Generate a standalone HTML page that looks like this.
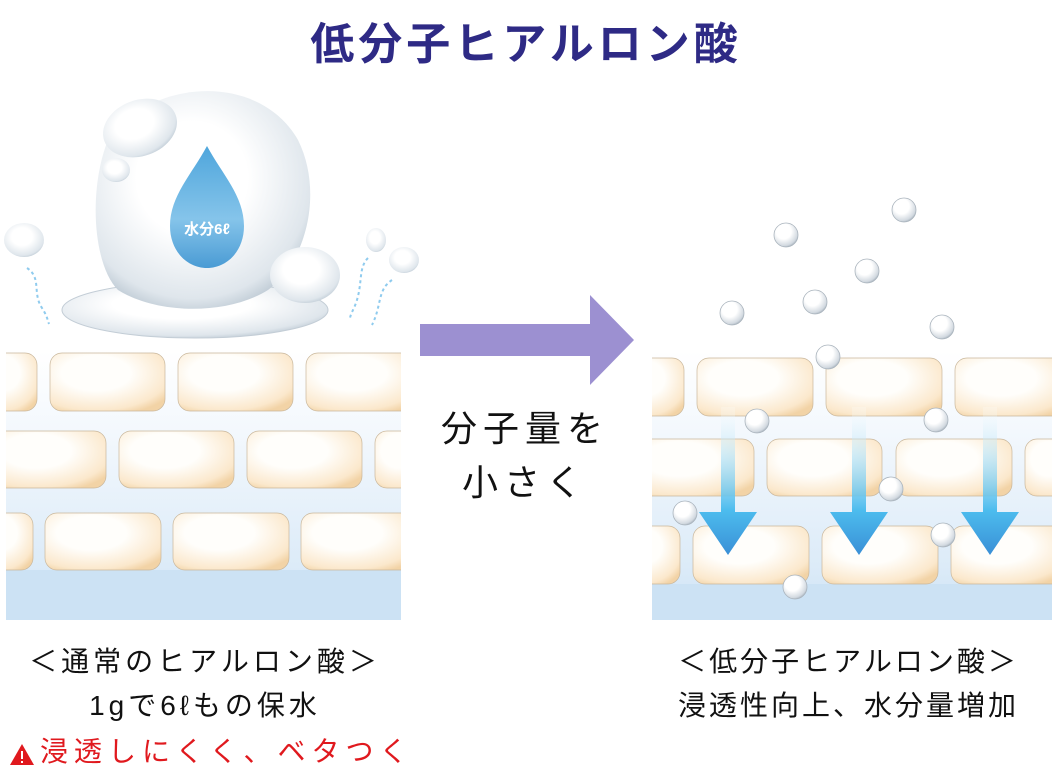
<!DOCTYPE html>
<html><head><meta charset="utf-8"><style>
html,body{margin:0;padding:0;background:#fff;}
body{width:1052px;height:774px;overflow:hidden;position:relative;font-family:"Liberation Sans","Noto Sans CJK JP",sans-serif;}
.t{position:absolute;white-space:nowrap;text-align:center;}
</style></head><body>
<svg width="1052" height="774" style="position:absolute;left:0;top:0">
<defs>
<clipPath id="cl"><rect x="6" y="340" width="395" height="280"/></clipPath>
<clipPath id="cr"><rect x="652" y="340" width="400" height="280"/></clipPath>
<linearGradient id="bg" x1="0" y1="0" x2="0" y2="1">
<stop offset="0" stop-color="#ffffff"/><stop offset="0.3" stop-color="#f3f8fd"/><stop offset="0.8" stop-color="#dcebf8"/><stop offset="1" stop-color="#cce2f4"/></linearGradient>
<radialGradient id="cell" cx="0.4" cy="0.35" r="0.75"><stop offset="0.4" stop-color="#fffefb"/><stop offset="0.85" stop-color="#fbe8cc"/><stop offset="1" stop-color="#f2d3a6"/></radialGradient>
<linearGradient id="arr" x1="0" y1="0" x2="0" y2="1"><stop offset="0" stop-color="#ffffff" stop-opacity="0.2"/><stop offset="0.7" stop-color="#4cbcee"/><stop offset="1" stop-color="#3a8fd6"/></linearGradient>
<radialGradient id="bub" cx="0.4" cy="0.35" r="0.7"><stop offset="0.45" stop-color="#ffffff"/><stop offset="0.85" stop-color="#d2d9e0"/><stop offset="1" stop-color="#9eaab5"/></radialGradient>
<radialGradient id="big" cx="0.45" cy="0.4" r="0.65"><stop offset="0.4" stop-color="#ffffff"/><stop offset="0.85" stop-color="#dfe6ec"/><stop offset="1" stop-color="#b8c5d0"/></radialGradient>
<linearGradient id="drop" x1="0" y1="0" x2="0" y2="1"><stop offset="0" stop-color="#4fa6dc"/><stop offset="0.6" stop-color="#85c4ea"/><stop offset="1" stop-color="#4a9bd4"/></linearGradient>
</defs>
<g clip-path="url(#cl)">
<rect x="6" y="351" width="395" height="269" fill="url(#bg)"/>
<rect x="6" y="570" width="395" height="50" fill="#cce2f4"/>
<g fill="url(#cell)" stroke="#c9b79c" stroke-width="0.7">
<rect x="-20" y="353" width="57" height="58" rx="12"/>
<rect x="50" y="353" width="115" height="58" rx="12"/>
<rect x="178" y="353" width="115" height="58" rx="12"/>
<rect x="306" y="353" width="115" height="58" rx="12"/>
<rect x="-10" y="431" width="116" height="57" rx="12"/>
<rect x="119" y="431" width="115" height="57" rx="12"/>
<rect x="247" y="431" width="115" height="57" rx="12"/>
<rect x="375" y="431" width="60" height="57" rx="12"/>
<rect x="-20" y="513" width="53" height="57" rx="12"/>
<rect x="45" y="513" width="116" height="57" rx="12"/>
<rect x="173" y="513" width="116" height="57" rx="12"/>
<rect x="301" y="513" width="116" height="57" rx="12"/>
</g>
</g>
<g clip-path="url(#cr)">
<rect x="652" y="351" width="400" height="269" fill="url(#bg)"/>
<rect x="652" y="584" width="400" height="36" fill="#cce2f4"/>
<g fill="url(#cell)" stroke="#c9b79c" stroke-width="0.7">
<rect x="620" y="358" width="64" height="58" rx="12"/>
<rect x="697" y="358" width="116" height="58" rx="12"/>
<rect x="826" y="358" width="116" height="58" rx="12"/>
<rect x="955" y="358" width="116" height="58" rx="12"/>
<rect x="630" y="439" width="124" height="57" rx="12"/>
<rect x="767" y="439" width="115" height="57" rx="12"/>
<rect x="896" y="439" width="116" height="57" rx="12"/>
<rect x="1025" y="439" width="60" height="57" rx="12"/>
<rect x="620" y="526" width="60" height="58" rx="12"/>
<rect x="693" y="526" width="116" height="58" rx="12"/>
<rect x="822" y="526" width="116" height="58" rx="12"/>
<rect x="951" y="526" width="116" height="58" rx="12"/>
</g>
</g>
<g fill="url(#arr)">
<path d="M721 407h14v105h22l-29 43l-29-43h22z"/>
<path d="M852 407h14v105h22l-29 43l-29-43h22z"/>
<path d="M983 407h14v105h22l-29 43l-29-43h22z"/>
</g>
<g fill="url(#bub)" stroke="#aab4bd" stroke-width="0.8">
<circle cx="904" cy="210" r="12"/><circle cx="786" cy="235" r="12"/><circle cx="867" cy="271" r="12"/>
<circle cx="732" cy="313" r="12"/><circle cx="815" cy="302" r="12"/><circle cx="942" cy="327" r="12"/>
<circle cx="828" cy="357" r="12"/><circle cx="757" cy="421" r="12"/><circle cx="936" cy="420" r="12"/>
<circle cx="891" cy="489" r="12"/><circle cx="685" cy="513" r="12"/><circle cx="943" cy="535" r="12"/>
<circle cx="795" cy="587" r="12"/>
</g>
<path d="M420 324h170v-29l44 45l-44 45v-29h-170z" fill="#9c90d1"/>
<ellipse cx="195" cy="310" rx="133" ry="28" fill="url(#big)" stroke="#c3cdd6"/>
<path d="M108 140c40-60 150-70 190 0c25 50 10 120-30 150c-40 25-110 25-150 0c-25-25-30-100-10-150z" fill="url(#big)"/>
<ellipse cx="140" cy="128" rx="38" ry="28" fill="url(#big)" transform="rotate(-20 140 128)"/>
<ellipse cx="116" cy="170" rx="14" ry="12" fill="url(#big)"/>
<ellipse cx="305" cy="275" rx="35" ry="28" fill="url(#big)"/>
<ellipse cx="24" cy="240" rx="20" ry="17" fill="url(#big)"/>
<ellipse cx="376" cy="240" rx="10" ry="12" fill="url(#big)"/>
<ellipse cx="404" cy="260" rx="15" ry="13" fill="url(#big)"/>
<path d="M207 146c-15 28-37 50-37 80c0 25 17 42 37 42s37-17 37-42c0-30-22-52-37-80z" fill="url(#drop)"/>
<text x="207" y="234" font-size="15" fill="#fff" text-anchor="middle" font-weight="bold" direction="ltr" unicode-bidi="embed" font-family="Liberation Sans,Noto Sans CJK JP,sans-serif">水分6ℓ</text>
<g fill="none" stroke="#8fcbee" stroke-width="2" stroke-dasharray="3 3">
<path d="M27 268c15 10 5 25 15 40c5 8 5 10 7 16"/>
<path d="M368 258c-10 10-5 25-12 45c-3 8-5 10-6 15"/>
<path d="M392 280c-15 10-10 25-20 45"/>
</g>
<path d="M10 765l12-21l12 21z" fill="#e0191e"/>
<rect x="21" y="751" width="2" height="8" fill="#fff"/><rect x="21" y="761" width="2" height="2" fill="#fff"/>
</svg>
<div class="t" style="left:0;width:1052px;top:8px;font-size:44px;font-weight:bold;color:#2e2a85;letter-spacing:4px">低分子ヒアルロン酸</div>
<div class="t" style="left:410px;width:230px;top:402px;font-size:36px;line-height:54px;color:#111;letter-spacing:6px">分子量を<br>小さく</div>
<div class="t" style="left:0;width:410px;top:640px;font-size:28px;line-height:44px;color:#111;letter-spacing:4px">＜通常のヒアルロン酸＞<br>1gで6ℓもの保水</div>
<div class="t" style="left:40px;top:730px;font-size:28px;color:#e0191e;letter-spacing:6px">浸透しにくく、ベタつく</div>
<div class="t" style="left:645px;width:407px;top:640px;font-size:28px;line-height:44px;color:#111;letter-spacing:3px">＜低分子ヒアルロン酸＞<br>浸透性向上、水分量増加</div>
</body></html>
